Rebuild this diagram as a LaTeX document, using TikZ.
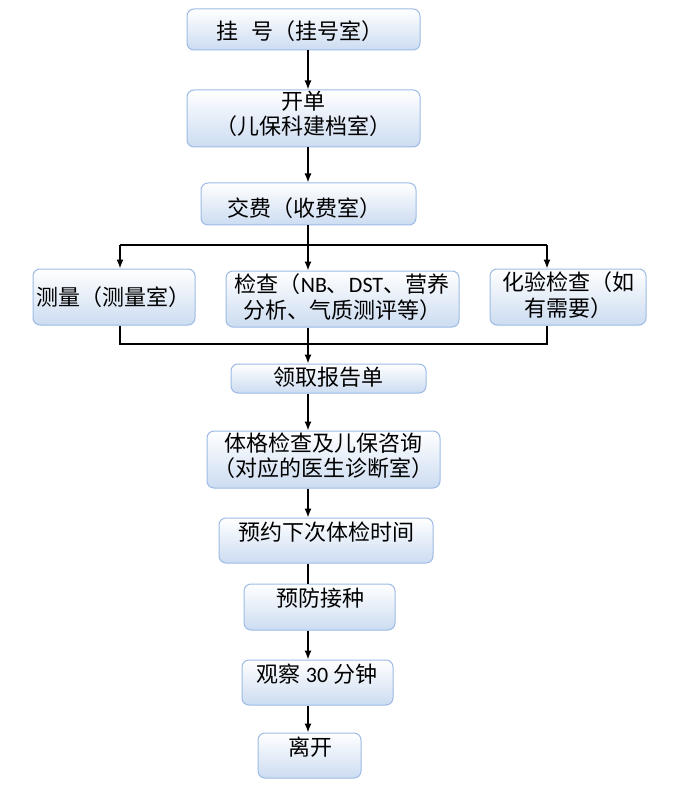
\documentclass[tikz,border=0pt]{standalone}
\usepackage{fontspec}
\newfontfamily\cjk{Noto Sans CJK SC}
\newfontfamily\lat{Carlito}
\usetikzlibrary{arrows.meta}
\definecolor{boxborder}{HTML}{9DBBE5}
\definecolor{boxbottom}{HTML}{CCDCF1}
\tikzset{
  box/.style={draw=boxborder, line width=1pt, rounded corners=7pt, top color=white, bottom color=boxbottom, inner sep=0pt},
  txt/.style={font=\cjk\fontsize{22}{25.5}\selectfont, align=center, inner sep=0pt},
  conn/.style={line width=1.3pt, black},
  arr/.style={conn, -{Latex[length=9pt,width=7pt]}},
}
\begin{document}
\begin{tikzpicture}[x=1pt,y=-1pt]
\fill[white] (0,0) rectangle (684,786);
\useasboundingbox (0,0) rectangle (684,786);
% boxes
\node[box, minimum width=233pt, minimum height=41pt] (b1) at (303.5,29.5) {};
\node[box, minimum width=233pt, minimum height=57pt] (b2) at (303.5,118.5) {};
\node[box, minimum width=215pt, minimum height=42pt] (b3) at (308.5,204) {};
\node[box, minimum width=162pt, minimum height=56pt] (b4a) at (114,297) {};
\node[box, minimum width=233pt, minimum height=56pt] (b4b) at (342.5,299) {};
\node[box, minimum width=156pt, minimum height=56pt] (b4c) at (568,297) {};
\node[box, minimum width=195pt, minimum height=29pt] (b5) at (328.5,378.5) {};
\node[box, minimum width=233pt, minimum height=57pt] (b6) at (323.5,459.5) {};
\node[box, minimum width=214pt, minimum height=45pt] (b7) at (326,540.5) {};
\node[box, minimum width=151pt, minimum height=46pt] (b8) at (319.5,607) {};
\node[box, minimum width=151pt, minimum height=45pt] (b9) at (317.5,682.5) {};
\node[box, minimum width=103pt, minimum height=45pt] (b10) at (309.5,755.5) {};
% texts
\node[txt] (t1) at (300,31) {挂\hspace{14pt}号（挂号室）};
\node[txt] (t2) at (303,114) {开单\\（儿保科建档室）};
\node[txt] (t3) at (304,208) {交费（收费室）};
\node[txt] (t4a) at (113,297) {测量（测量室）};
\node[txt] (t4b) at (342,297) {检查（{\lat NB}、{\lat DST}、营养\\分析、气质测评等）};
\node[txt] (t4c) at (568,295) {化验检查（如\\有需要）};
\node[txt] (t5) at (328,377) {领取报告单};
\node[txt] (t6) at (323,455.5) {体格检查及儿保咨询\\（对应的医生诊断室）};
\node[txt] (t7) at (326,532) {预约下次体检时间};
\node[txt] (t8) at (320,598) {预防接种};
\node[txt] (t9) at (317,674) {观察 {\lat 30} 分钟};
\node[txt] (t10) at (310,747) {离开};
% connector coordinates
\coordinate (sp) at (308,0);
\coordinate (sL) at (120,245);
\coordinate (sR) at (547,245);
\coordinate (jL) at (120,344);
\coordinate (jR) at (547,344);
% connectors
\draw[arr] (b1.south -| sp) -- (b2.north -| sp);
\draw[arr] (b2.south -| sp) -- (b3.north -| sp);
\draw[arr] (b3.south -| sp) -- (b4b.north -| sp);
\draw[conn] (sL) -- (sR);
\draw[arr] (sL) -- (b4a.north -| sL);
\draw[arr] (sR) -- (b4c.north -| sR);
\draw[conn] (b4a.south -| jL) -- (jL) -- (jR) -- (b4c.south -| jR);
\draw[arr] (b4b.south -| sp) -- (b5.north -| sp);
\draw[arr] (b5.south -| sp) -- (b6.north -| sp);
\draw[arr] (b6.south -| sp) -- (b7.north -| sp);
\draw[conn] (b7.south -| sp) -- (b8.north -| sp);
\draw[arr] (b8.south -| sp) -- (b9.north -| sp);
\draw[arr] (b9.south -| sp) -- (b10.north -| sp);
\end{tikzpicture}
\end{document}
